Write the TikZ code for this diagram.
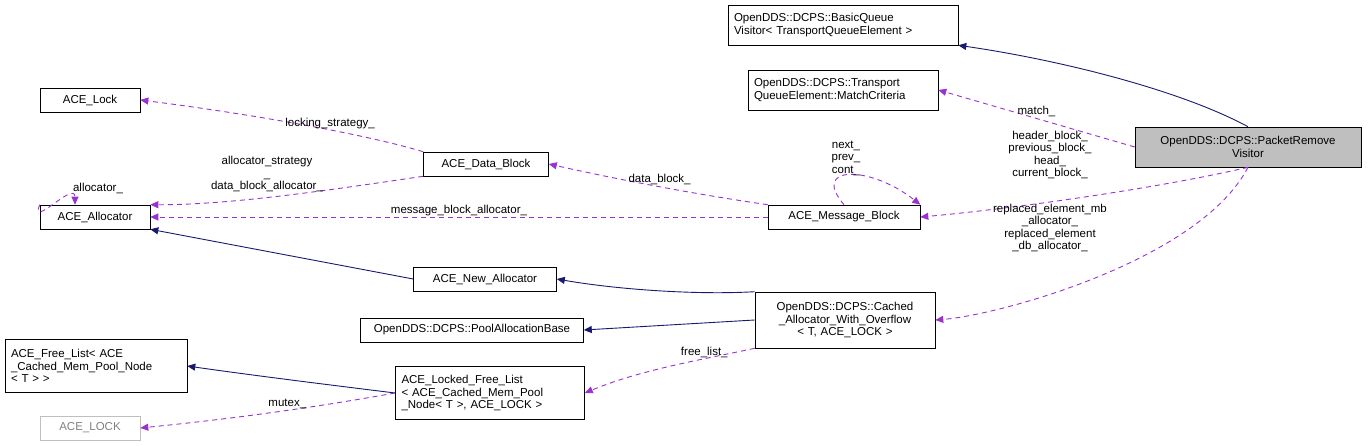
\documentclass[tikz,border=0pt]{standalone}
\usepackage{fontspec}
\setmainfont{Liberation Sans}
\usetikzlibrary{arrows.meta}

\begin{document}
\begin{tikzpicture}[x=1pt,y=-1pt,>={Triangle[length=8pt,width=7pt]},
    font=\fontsize{11.5}{12.5}\selectfont,
    cls/.style={draw,rectangle,inner sep=2pt,align=center,minimum height=24pt,line width=0.6pt},
    mcls/.style={cls,align=left,text width=#1-12pt,minimum width=#1},
    inh/.style={->,draw={rgb,255:red,25;green,25;blue,112},line width=0.9pt},
    use/.style={->,draw={rgb,255:red,153;green,50;blue,204},dash pattern=on 5pt off 4pt,line width=0.9pt},
    lbl/.style={font=\fontsize{11.5}{12.5}\selectfont,align=center,inner sep=1pt}]
  \useasboundingbox (0,0) rectangle (1369,446);
  % classes
  \node[mcls=230pt,minimum height=40pt] (bqv) at (843,25) {OpenDDS::DCPS::BasicQueue\\Visitor< TransportQueueElement >};
  \node[mcls=190pt,minimum height=40pt] (mc) at (843,90) {OpenDDS::DCPS::Transport\\QueueElement::MatchCriteria};
  \node[mcls=226pt,minimum height=40pt,fill={rgb,255:red,191;green,191;blue,191},align=center] (prv) at (1248,147) {OpenDDS::DCPS::PacketRemove\\Visitor};
  \node[cls,minimum width=100pt] (lock) at (90,100) {ACE\_Lock};
  \node[cls,minimum width=125pt] (db) at (486,164) {ACE\_Data\_Block};
  \node[cls,minimum width=110pt] (alloc) at (95,217) {ACE\_Allocator};
  \node[cls,minimum width=152pt] (mb) at (844,217) {ACE\_Message\_Block};
  \node[cls,minimum width=143pt] (na) at (485,279) {ACE\_New\_Allocator};
  \node[cls,minimum width=223pt] (pab) at (472,330) {OpenDDS::DCPS::PoolAllocationBase};
  \node[mcls=180pt,minimum height=56pt,align=center] (cao) at (845,320) {OpenDDS::DCPS::Cached\\\_Allocator\_With\_Overflow\\< T, ACE\_LOCK >};
  \node[mcls=182pt,minimum height=53pt] (fl) at (96,366) {ACE\_Free\_List< ACE\\\_Cached\_Mem\_Pool\_Node\\< T > >};
  \node[mcls=189pt,minimum height=53pt] (lfl) at (490,393) {ACE\_Locked\_Free\_List\\< ACE\_Cached\_Mem\_Pool\\\_Node< T >, ACE\_LOCK >};
  \node[cls,minimum width=100pt,draw={rgb,255:red,191;green,191;blue,191},text={rgb,255:red,128;green,128;blue,128}] (alock) at (90,428) {ACE\_LOCK};

  % inheritance
  \draw[inh] (prv.north) .. controls (1180,90) and (1060,60) .. (bqv.south east);
  \draw[inh] (na.west) -- (alloc.south east);
  \draw[inh] (cao.north west) .. controls (700,295) and (620,290) .. (na.east);
  \draw[inh] (cao.west) -- (pab.east);
  \draw[inh] (lfl.west) .. controls (330,385) and (250,375) .. (fl.east);

  % usage
  \draw[use] (prv.west) -- node[lbl,above] {match\_} (mc.east);
  \draw[use] (prv.south) .. controls (1150,190) and (1000,210) .. (mb.east);
  \node[lbl] (l1) at (1050,155) {header\_block\_\\previous\_block\_\\head\_\\current\_block\_};
  \draw[use] (prv.south) .. controls (1200,260) and (1000,315) .. (cao.east);
  \node[lbl] (l2) at (1050,228) {replaced\_element\_mb\\\_allocator\_\\replaced\_element\\\_db\_allocator\_};
  \draw[use] (mb.north) .. controls (810,165) and (870,165) .. (mb.north east);
  \node[lbl] (l3) at (846,158) {next\_\\prev\_\\cont\_};
  \draw[use] (mb.north west) .. controls (700,195) and (620,180) .. node[lbl,above] {data\_block\_} (db.east);
  \draw[use] (mb.west) -- node[lbl,above] {message\_block\_allocator\_} (alloc.east);
  \draw[use] (db.north west) .. controls (350,130) and (220,110) .. node[lbl,above,pos=0.35] {locking\_strategy\_} (lock.east);
  \draw[use] (db.south west) .. controls (330,190) and (230,205) .. (alloc.north east);
  \node[lbl] (l4) at (267,174) {allocator\_strategy\\\_\\data\_block\_allocator\_};
  \draw[use] (alloc.north west) .. controls ([xshift=-10pt,yshift=-25pt]alloc.north west) and (75,180) .. ([xshift=-20pt]alloc.north);
  \node[lbl] (l5) at (98,188) {allocator\_};
  \draw[use] (cao.south west) .. controls (700,360) and (640,370) .. node[lbl,above,pos=0.3] {free\_list\_} (lfl.east);
  \draw[use] (lfl.west) .. controls (300,410) and (220,420) .. node[lbl,above,pos=0.4] {mutex\_} (alock.east);
\end{tikzpicture}
\end{document}
